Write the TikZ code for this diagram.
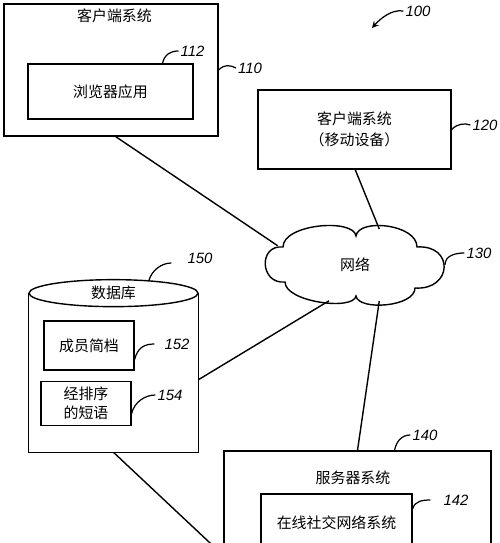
\documentclass[tikz,border=0pt]{standalone}
\usepackage{fontspec}
\setmainfont{Noto Sans CJK SC}
\newfontfamily\numfont{Liberation Sans}
\usetikzlibrary{shapes.geometric,calc}

\begin{document}
\begin{tikzpicture}[
    font=\fontsize{8.5}{10}\selectfont,
    box/.style={rectangle, draw, line width=0.7pt, text centered},
    refnum/.style={font=\fontsize{8.5}{10}\selectfont\numfont\itshape, inner sep=1pt},
    lead/.style={line width=0.7pt},
    link/.style={line width=0.8pt}
]
    \useasboundingbox (0,0) rectangle (10,-10.86);
    \clip (0,0) rectangle (10,-10.86);

    % client systems
    \node [box, minimum width=4.28cm, minimum height=2.64cm] (client) at (2.22,-1.4) {};
    \node (clienttitle) at (2.29,-0.32) {客户端系统};
    \node [box, minimum width=3.3cm, minimum height=1.1cm] (browser) at (2.21,-1.83) {浏览器应用};
    \node [box, minimum width=3.86cm, minimum height=1.58cm, align=center, font=\fontsize{8.5}{12}\selectfont] (mobile) at (7.09,-2.59) {客户端系统\\（移动设备）};

    % network
    \node [ellipse, inner sep=0, minimum width=3.6cm, minimum height=1.48cm] (net) at (7.1,-5.3) {网络};
    \begin{scope}[shift={(net.center)}]
        \draw [link] (-1.44,0.36) .. controls +(0,0.46) and +(-0.05,0.36) .. (0.02,0.58)
            .. controls +(0.05,0.36) and +(0,0.46) .. (1.24,0.36)
            .. controls +(0.75,0.05) and +(0.75,-0.05) .. (1.2,-0.46)
            .. controls +(0,-0.38) and +(0.05,-0.3) .. (0.02,-0.62)
            .. controls +(-0.05,-0.3) and +(0,-0.4) .. (-1.4,-0.34)
            .. controls +(-0.5,-0.05) and +(-0.5,0.05) .. (-1.44,0.36) -- cycle;
    \end{scope}

    % database
    \node [minimum width=3.38cm, minimum height=3.17cm, inner sep=0] (db) at (2.27,-7.455) {};
    \draw [link] (db.north west) -- (db.south west) -- (db.south east) -- (db.north east);
    \node [ellipse, draw, line width=0.8pt, fill=white, inner sep=0, minimum width=3.38cm, minimum height=0.54cm] (dbtop) at (db.north) {数据库};
    \node [box, minimum width=1.8cm, minimum height=0.98cm] (profile) at (1.78,-6.91) {成员简档};
    \node [box, minimum width=1.8cm, minimum height=0.82cm, align=center, font=\fontsize{8.5}{10.5}\selectfont] (phrases) at (1.72,-8.07) {经排序\\的短语};

    % server
    \node [box, minimum width=5.34cm, minimum height=4.18cm] (server) at (7.15,-11.11) {};
    \node (servertitle) at (7.06,-9.56) {服务器系统};
    \node [box, minimum width=3.02cm, minimum height=1.16cm] (social) at (6.73,-10.46) {在线社交网络系统};

    % connections
    \draw [link] (client.-86) -- (net.166);
    \draw [link] (mobile.-89) -- (net.56);
    \draw [link] (net.234) -- ([yshift=-0.14cm]db.east);
    \draw [link] (net.-56) -- (server.north);
    \draw [link] (db.south) -- (server.west);

    % reference numerals
    \node [refnum] (n100) at (8.36,-0.22) {100};
    \coordinate (sysarrow) at (7.44,-0.56);
    \draw [lead, ->, > = stealth] (n100.west) .. controls +(-0.24,0.04) and +(0.16,0.18) .. (sysarrow);

    \node [refnum] (n110) at (5.0,-1.36) {110};
    \draw [lead] (client.east) .. controls +(0.12,0.12) and +(-0.12,0.06) .. (n110.west);

    \node [refnum] (n112) at (3.85,-1.02) {112};
    \draw [lead] ($(browser.north)+(1.04,0)$) .. controls +(0.04,0.18) and +(-0.16,0) .. (n112.west);

    \node [refnum] (n120) at (9.7,-2.5) {120};
    \draw [lead] (mobile.east) .. controls +(0.12,0.12) and +(-0.12,0.04) .. (n120.west);

    \node [refnum] (n130) at (9.58,-5.06) {130};
    \draw [lead] ($(net.center)+(1.8,0)$) .. controls +(0,0.2) and +(-0.16,0) .. (n130.west);

    \node [refnum] (n150) at (4.0,-5.16) {150};
    \draw [lead] (dbtop.20) .. controls +(0.06,0.2) and +(-0.2,0) .. ([xshift=-0.28cm, yshift=-0.1cm]n150.west);

    \node [refnum] (n152) at (3.54,-6.88) {152};
    \draw [lead] ($(profile.east)+(0,-0.28)$) .. controls +(0.06,0.24) and +(-0.2,0) .. ([xshift=-0.16cm]n152.west);

    \node [refnum] (n154) at (3.4,-7.9) {154};
    \draw [lead] ($(phrases.east)+(0,-0.2)$) .. controls +(0.06,0.24) and +(-0.2,0) .. (n154.west);

    \node [refnum] (n140) at (8.5,-8.7) {140};
    \draw [lead] ($(server.north)+(0.74,0)$) .. controls +(0.04,0.2) and +(-0.16,0) .. (n140.west);

    \node [refnum] (n142) at (9.12,-10.0) {142};
    \draw [lead] ($(social.east)+(0,0.28)$) .. controls +(0.04,0.16) and +(-0.16,0) .. ([xshift=-0.22cm]n142.west);
\end{tikzpicture}
\end{document}
